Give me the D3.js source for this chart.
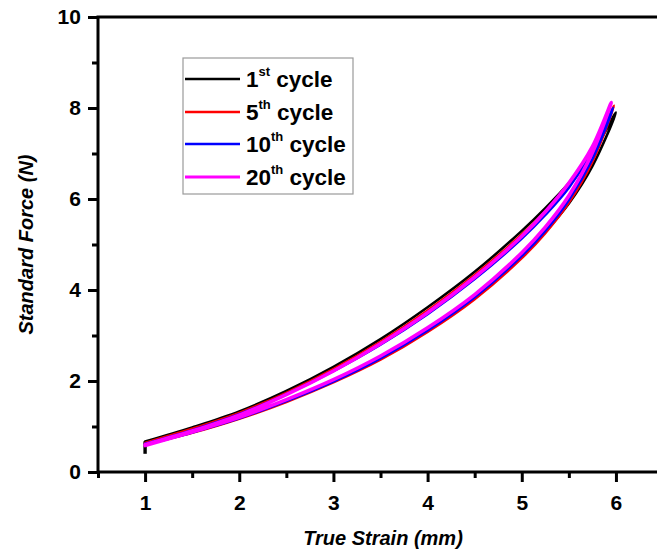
<!DOCTYPE html>
<html>
<head>
<meta charset="utf-8">
<script src="https://cdn.jsdelivr.net/npm/d3@7"></script>
<style>
  html, body { margin: 0; padding: 0; background: #fff; }
  svg { display: block; }
  text { font-family: "Liberation Sans", Arial, sans-serif; }
</style>
</head>
<body>
<svg id="chart" width="657" height="556"></svg>
<script>
// ---------- data ----------
const cycleNames = ["1st cycle", "5th cycle", "10th cycle", "20th cycle"];
const cycleNumbers = ["1", "5", "10", "20"];
const cycleSuffix = ["st", "th", "th", "th"];
const cycleColors = ["#000000", "#ff0000", "#0000ff", "#ff00ff"];

// strain grid shared by both branches (mm)
const strainGrid = [1.0, 1.5, 2.0, 2.5, 3.0, 3.5, 4.0, 4.5, 5.0, 5.25, 5.5, 5.75];

// loading (upper) branch force values (N)
const loadCycle1  = [0.67, 0.98, 1.33, 1.78, 2.31, 2.92, 3.62, 4.40, 5.30, 5.80, 6.35, 7.00];
const loadCycle5  = [0.64, 0.95, 1.30, 1.74, 2.26, 2.86, 3.55, 4.33, 5.22, 5.73, 6.30, 7.00];
const loadCycle10 = [0.62, 0.92, 1.27, 1.71, 2.22, 2.80, 3.47, 4.24, 5.13, 5.65, 6.25, 7.05];
const loadCycle20 = [0.60, 0.90, 1.25, 1.70, 2.22, 2.82, 3.50, 4.28, 5.18, 5.72, 6.35, 7.15];

// unloading (lower) branch force values (N)
const unloadCycle1  = [0.62, 0.88, 1.19, 1.57, 2.01, 2.52, 3.13, 3.86, 4.76, 5.28, 5.90, 6.72];
const unloadCycle5  = [0.60, 0.86, 1.17, 1.54, 1.97, 2.47, 3.08, 3.80, 4.70, 5.25, 5.92, 6.82];
const unloadCycle10 = [0.60, 0.87, 1.18, 1.56, 1.99, 2.50, 3.11, 3.84, 4.75, 5.30, 5.98, 6.88];
const unloadCycle20 = [0.58, 0.88, 1.20, 1.59, 2.03, 2.55, 3.17, 3.90, 4.82, 5.38, 6.07, 7.02];

// turning point of each cycle
const peakStrain = [6.00, 5.98, 5.97, 5.95];
const peakForce  = [7.90, 8.05, 8.00, 8.12];

// toe of the first cycle (initial vertical rise)
const toeStrain = [1.0, 1.0];
const toeForce  = [0.40, 0.67];

const xTicks = [1, 2, 3, 4, 5, 6];
const xMinorTicks = [0.5, 1.5, 2.5, 3.5, 4.5, 5.5];
const yTicks = [0, 2, 4, 6, 8, 10];
const yMinorTicks = [1, 3, 5, 7, 9];

const loads = [loadCycle1, loadCycle5, loadCycle10, loadCycle20];
const unloads = [unloadCycle1, unloadCycle5, unloadCycle10, unloadCycle20];

// ---------- layout ----------
const svg = d3.select("#chart");
const mLeft = 98, mRight = 657, mTop = 17, mBottom = 472;

const x = d3.scaleLinear().domain([0.5, 6.436]).range([mLeft, mRight]);
const y = d3.scaleLinear().domain([0, 10]).range([mBottom, mTop]);

// ---------- curves ----------
const line = d3.line().x(d => x(d[0])).y(d => y(d[1])).curve(d3.curveCatmullRom.alpha(0.5));
const straight = d3.line().x(d => x(d[0])).y(d => y(d[1]));

// toe segment of first cycle
svg.append("path")
  .attr("d", straight(toeStrain.map((s, k) => [s, toeForce[k]])))
  .attr("fill", "none").attr("stroke", "#000").attr("stroke-width", 3.4);

const widths = [2.6, 2.6, 2.6, 3.6];
loads.forEach((ld, i) => {
  const pts = [];
  strainGrid.forEach((s, j) => pts.push([s, ld[j]]));
  pts.push([peakStrain[i], peakForce[i]]);
  for (let j = strainGrid.length - 1; j >= 0; j--) pts.push([strainGrid[j], unloads[i][j]]);
  svg.append("path")
    .attr("d", line(pts))
    .attr("fill", "none")
    .attr("stroke", cycleColors[i])
    .attr("stroke-width", widths[i])
    .attr("stroke-linejoin", "round")
    .attr("stroke-linecap", "round");
});

// ---------- axes ----------
const axisColor = "#000";
const xAxis = d3.axisBottom(x).tickValues(xTicks).tickSize(10).tickFormat(d3.format("d"));
const gx = svg.append("g").attr("transform", `translate(0,${mBottom})`).call(xAxis);
const xMinor = d3.axisBottom(x).tickValues(xMinorTicks).tickSize(6).tickFormat("");
const gxm = svg.append("g").attr("transform", `translate(0,${mBottom})`).call(xMinor);
const yAxis = d3.axisLeft(y).tickValues(yTicks).tickSize(10).tickFormat(d3.format("d"));
const gy = svg.append("g").attr("transform", `translate(${mLeft},0)`).call(yAxis);
const yMinor = d3.axisLeft(y).tickValues(yMinorTicks).tickSize(6).tickFormat("");
const gym = svg.append("g").attr("transform", `translate(${mLeft},0)`).call(yMinor);

[gx, gxm, gy, gym].forEach(g => {
  g.select(".domain").remove();
  g.selectAll(".tick line").attr("stroke", axisColor).attr("stroke-width", 3);
});
gx.selectAll(".tick text").attr("font-size", 21).attr("font-weight", "bold").attr("fill", "#000")
  .attr("font-family", "Liberation Sans, Arial, sans-serif").attr("dy", "1.2em");
gy.selectAll(".tick text").attr("font-size", 21).attr("font-weight", "bold").attr("fill", "#000")
  .attr("font-family", "Liberation Sans, Arial, sans-serif").attr("dx", "-0.2em");

// axis lines
svg.append("line").attr("x1", mLeft).attr("x2", mRight).attr("y1", mBottom).attr("y2", mBottom)
  .attr("stroke", axisColor).attr("stroke-width", 3);
svg.append("line").attr("x1", mLeft).attr("x2", mLeft).attr("y1", mTop).attr("y2", mBottom)
  .attr("stroke", axisColor).attr("stroke-width", 3);
svg.append("line").attr("x1", mLeft - 1.5).attr("x2", mRight).attr("y1", mTop).attr("y2", mTop)
  .attr("stroke", axisColor).attr("stroke-width", 3);

// axis titles
svg.append("text")
  .attr("x", 383).attr("y", 545)
  .attr("text-anchor", "middle")
  .attr("font-size", 20).attr("font-weight", "bold").attr("font-style", "italic")
  .text("True Strain (mm)");
svg.append("text")
  .attr("transform", `translate(33,${(mTop + mBottom) / 2}) rotate(-90)`)
  .attr("text-anchor", "middle")
  .attr("font-size", 20).attr("font-weight", "bold").attr("font-style", "italic")
  .text("Standard Force (N)");

// ---------- legend ----------
const lg = svg.append("g");
lg.append("rect").attr("x", 183).attr("y", 58).attr("width", 170).attr("height", 136)
  .attr("fill", "#fff").attr("stroke", "#9a9a9a").attr("stroke-width", 1.2);
const legendY = [79, 112, 144, 177];
cycleNames.forEach((name, i) => {
  lg.append("line").attr("x1", 185).attr("x2", 240).attr("y1", legendY[i]).attr("y2", legendY[i])
    .attr("stroke", cycleColors[i]).attr("stroke-width", i === 3 ? 3.2 : 2.6);
  const t = lg.append("text").attr("x", 246).attr("y", legendY[i] + 8)
    .attr("font-size", 22.5).attr("font-weight", "bold").attr("fill", "#000");
  t.append("tspan").text(cycleNumbers[i]);
  t.append("tspan").attr("font-size", 13).attr("dy", -11).text(cycleSuffix[i]);
  t.append("tspan").attr("dy", 11).text(" cycle");
});
</script>
</body>
</html>
